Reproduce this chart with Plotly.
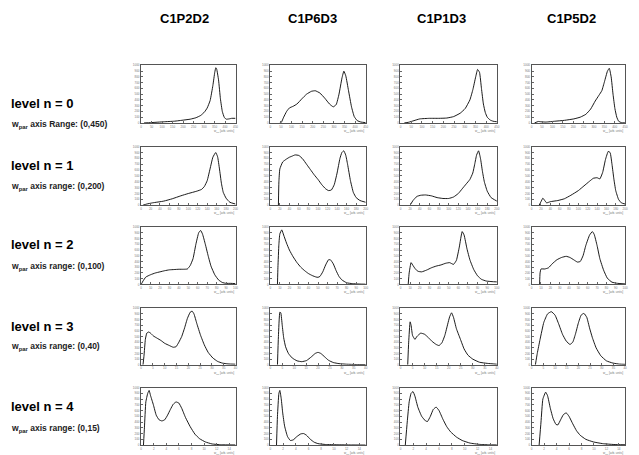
import plotly.graph_objects as go

# ---------------- data ----------------
columns = ["C1P2D2", "C1P6D3", "C1P1D3", "C1P5D2"]
level_labels = ["level n = 0", "level n = 1", "level n = 2", "level n = 3", "level n = 4"]
range_labels = [
    "w<sub>par</sub> axis Range: (0,450)",
    "w<sub>par</sub> axis range: (0,200)",
    "w<sub>par</sub> axis range: (0,100)",
    "w<sub>par</sub> axis range: (0,40)",
    "w<sub>par</sub> axis range: (0,15)",
]
x_max = [450, 200, 100, 40, 15]
x_dtick = [50, 20, 10, 5, 2]

# level 0
x_n0_C1P2D2 = [14, 45, 108, 158, 203, 234, 261, 284, 302, 315, 329, 342, 351, 356, 360, 369, 378, 387, 396, 405, 419, 432, 450]
y_n0_C1P2D2 = [0, 5, 20, 30, 50, 65, 90, 130, 190, 260, 390, 650, 880, 960, 940, 750, 420, 200, 100, 65, 70, 80, 80]
x_n0_C1P6D3 = [45, 52, 63, 77, 90, 108, 126, 149, 171, 194, 212, 234, 257, 279, 297, 311, 324, 338, 347, 356, 369, 383, 396, 410, 428, 450]
y_n0_C1P6D3 = [0, 10, 100, 200, 260, 290, 330, 420, 500, 550, 560, 520, 430, 330, 280, 320, 500, 780, 900, 820, 560, 280, 110, 40, 15, 5]
x_n0_C1P1D3 = [18, 36, 63, 90, 135, 180, 216, 248, 279, 302, 324, 338, 351, 360, 369, 378, 387, 396, 405, 419, 432, 450]
y_n0_C1P1D3 = [0, 10, 40, 70, 80, 80, 85, 110, 170, 250, 400, 580, 800, 930, 880, 600, 330, 180, 100, 50, 30, 20]
x_n0_C1P5D2 = [14, 32, 45, 68, 113, 158, 203, 234, 261, 284, 306, 324, 338, 351, 365, 374, 383, 392, 401, 410, 419, 432, 450]
y_n0_C1P5D2 = [0, 25, 20, 15, 30, 45, 70, 100, 150, 240, 380, 480, 560, 720, 900, 950, 800, 500, 250, 100, 30, 5, 0]

# level 1
x_n1_C1P2D2 = [4, 12, 24, 48, 66, 84, 100, 118, 128, 134, 140, 146, 152, 158, 162, 166, 170, 174, 180, 188, 200]
y_n1_C1P2D2 = [0, 20, 40, 70, 110, 160, 200, 240, 270, 320, 420, 620, 820, 900, 830, 620, 380, 220, 120, 50, 20]
x_n1_C1P6D3 = [17, 18, 20, 26, 34, 40, 46, 52, 60, 68, 76, 84, 92, 100, 108, 116, 122, 128, 134, 140, 146, 150, 154, 158, 162, 168, 174, 180, 188, 200]
y_n1_C1P6D3 = [0, 400, 620, 740, 790, 820, 840, 860, 850, 790, 700, 610, 520, 440, 350, 280, 250, 260, 350, 550, 800, 900, 930, 860, 700, 420, 220, 130, 80, 50]
x_n1_C1P1D3 = [20, 26, 34, 42, 52, 64, 76, 88, 100, 110, 120, 128, 136, 144, 150, 154, 158, 162, 166, 170, 174, 180, 188, 200]
y_n1_C1P1D3 = [0, 80, 150, 170, 175, 160, 130, 115, 115, 140, 200, 280, 360, 440, 550, 700, 860, 930, 800, 580, 400, 240, 130, 70]
x_n1_C1P5D2 = [16, 20, 24, 28, 32, 40, 56, 70, 84, 100, 112, 124, 132, 140, 146, 152, 158, 164, 168, 172, 176, 180, 186, 192, 200]
y_n1_C1P5D2 = [0, 60, 120, 80, 40, 60, 80, 110, 170, 250, 330, 410, 460, 470, 450, 560, 780, 920, 900, 700, 450, 250, 100, 40, 20]

# level 2
x_n2_C1P2D2 = [0, 2, 5, 10, 15, 20, 25, 30, 35, 40, 45, 49, 52, 55, 58, 61, 63, 65, 68, 71, 74, 78, 82, 86, 90, 95, 100]
y_n2_C1P2D2 = [0, 60, 130, 170, 200, 220, 240, 255, 260, 265, 265, 270, 330, 450, 700, 900, 940, 880, 700, 500, 320, 170, 80, 35, 20, 20, 15]
x_n2_C1P6D3 = [7.5, 8, 9, 10, 12, 14, 17, 20, 24, 28, 32, 36, 40, 44, 48, 50, 52, 55, 58, 61, 63, 66, 69, 72, 75, 80, 86, 93, 100]
y_n2_C1P6D3 = [0, 300, 700, 880, 950, 860, 720, 600, 480, 380, 300, 240, 190, 155, 130, 125, 140, 220, 340, 430, 430, 360, 240, 140, 80, 30, 15, 8, 5]
x_n2_C1P1D3 = [8, 9, 11, 13, 15, 18, 22, 27, 32, 37, 42, 47, 51, 55, 58, 61, 64, 66, 69, 72, 76, 80, 84, 89, 95, 100]
y_n2_C1P1D3 = [0, 200, 380, 330, 280, 230, 220, 250, 290, 320, 340, 370, 380, 350, 420, 650, 920, 860, 620, 430, 260, 150, 90, 60, 50, 45]
x_n2_C1P5D2 = [8.5, 9, 10, 14, 18, 22, 27, 32, 37, 41, 45, 49, 52, 55, 58, 62, 65, 67, 70, 73, 77, 81, 86, 92, 100]
y_n2_C1P5D2 = [0, 200, 270, 270, 290, 360, 430, 470, 490, 470, 430, 390, 400, 500, 680, 860, 920, 870, 680, 450, 250, 110, 40, 20, 10]

# level 3
x_n3_C1P2D2 = [0.8, 1.2, 1.8, 2.4, 3.2, 4, 5.2, 6.8, 8.4, 10, 12, 13.6, 14.8, 16, 17.2, 18.4, 19.6, 20.8, 21.6, 22.4, 23.6, 25.2, 26.8, 28.4, 30.4, 32.4, 34.4, 36.8, 40]
y_n3_C1P2D2 = [0, 150, 450, 560, 580, 560, 510, 470, 430, 380, 340, 310, 320, 400, 500, 650, 820, 930, 950, 900, 730, 520, 350, 220, 120, 60, 30, 15, 10]
x_n3_C1P6D3 = [3, 3.4, 4, 4.4, 5, 5.6, 6.4, 7.6, 9.2, 11.2, 13.2, 15.2, 17.2, 18.8, 20, 21.2, 22.8, 24.4, 26.4, 28.8, 32, 36, 40]
y_n3_C1P6D3 = [0, 500, 930, 920, 700, 480, 320, 200, 120, 70, 55, 75, 140, 200, 220, 200, 140, 80, 40, 20, 10, 5, 3]
x_n3_C1P1D3 = [3, 3.4, 4, 4.4, 5, 6, 6.8, 8.4, 10, 11.6, 13.2, 14.8, 16, 17.2, 18.4, 19.6, 20.4, 21.2, 22, 23.2, 24.8, 26.4, 28, 30, 32.8, 36, 40]
y_n3_C1P1D3 = [0, 400, 760, 700, 520, 450, 500, 560, 540, 480, 410, 360, 340, 390, 520, 720, 850, 920, 840, 640, 460, 280, 170, 100, 45, 25, 10]
x_n3_C1P5D2 = [1.6, 2.4, 3.6, 5.2, 6.8, 8.4, 10, 11.6, 13.2, 14.8, 16.4, 17.6, 18.8, 20, 21.2, 22.4, 23.6, 24.8, 26, 27.6, 29.6, 32, 34.8, 37.6, 40]
y_n3_C1P5D2 = [0, 200, 450, 750, 900, 940, 880, 720, 540, 420, 360, 400, 550, 740, 880, 910, 840, 650, 480, 300, 160, 70, 30, 12, 8]

# level 4
x_n4_C1P2D2 = [0.375, 0.525, 0.75, 1.05, 1.275, 1.5, 1.95, 2.4, 2.85, 3.3, 3.75, 4.2, 4.65, 5.1, 5.55, 6, 6.45, 7.05, 7.8, 8.55, 9.3, 10.2, 11.25, 12.75, 15]
y_n4_C1P2D2 = [0, 300, 750, 900, 950, 860, 700, 520, 440, 420, 440, 520, 620, 710, 750, 730, 640, 480, 320, 190, 110, 55, 20, 5, 2]
x_n4_C1P6D3 = [0.975, 1.125, 1.35, 1.5, 1.725, 1.95, 2.25, 2.7, 3.15, 3.6, 4.2, 4.8, 5.25, 5.7, 6.3, 6.9, 7.5, 8.7, 10.5, 12.75, 15]
y_n4_C1P6D3 = [0, 500, 900, 950, 800, 560, 330, 150, 80, 90, 150, 195, 200, 170, 100, 50, 25, 10, 5, 2, 0]
x_n4_C1P1D3 = [0.75, 1.05, 1.35, 1.65, 1.95, 2.25, 2.7, 3.3, 3.9, 4.2, 4.65, 5.1, 5.55, 6, 6.6, 7.2, 7.8, 8.7, 9.6, 10.8, 12.3, 13.8, 15]
y_n4_C1P1D3 = [0, 400, 750, 900, 930, 850, 660, 500, 420, 410, 500, 620, 660, 600, 450, 320, 230, 140, 80, 35, 12, 4, 2]
x_n4_C1P5D2 = [1.2, 1.5, 1.8, 2.25, 2.55, 3, 3.45, 3.9, 4.2, 4.65, 5.1, 5.55, 6, 6.6, 7.2, 7.8, 8.7, 9.9, 11.4, 13.2, 15]
y_n4_C1P5D2 = [0, 400, 800, 920, 860, 640, 460, 360, 350, 440, 530, 560, 500, 370, 250, 170, 100, 55, 25, 10, 5]

series = [
    [(x_n0_C1P2D2, y_n0_C1P2D2), (x_n0_C1P6D3, y_n0_C1P6D3), (x_n0_C1P1D3, y_n0_C1P1D3), (x_n0_C1P5D2, y_n0_C1P5D2)],
    [(x_n1_C1P2D2, y_n1_C1P2D2), (x_n1_C1P6D3, y_n1_C1P6D3), (x_n1_C1P1D3, y_n1_C1P1D3), (x_n1_C1P5D2, y_n1_C1P5D2)],
    [(x_n2_C1P2D2, y_n2_C1P2D2), (x_n2_C1P6D3, y_n2_C1P6D3), (x_n2_C1P1D3, y_n2_C1P1D3), (x_n2_C1P5D2, y_n2_C1P5D2)],
    [(x_n3_C1P2D2, y_n3_C1P2D2), (x_n3_C1P6D3, y_n3_C1P6D3), (x_n3_C1P1D3, y_n3_C1P1D3), (x_n3_C1P5D2, y_n3_C1P5D2)],
    [(x_n4_C1P2D2, y_n4_C1P2D2), (x_n4_C1P6D3, y_n4_C1P6D3), (x_n4_C1P1D3, y_n4_C1P1D3), (x_n4_C1P5D2, y_n4_C1P5D2)],
]

# ---------------- layout ----------------
W, H = 639, 455
cols_px = [(141, 236), (271, 367), (402, 499), (534, 628)]
rows_px = [(64, 122), (146, 205), (227, 285), (309, 366), (389, 447)]
title_x_px = [185, 313, 443, 574]
level_y_px = [102, 165, 245, 327, 408]
sub_y_px = [124, 186, 267, 348, 430]

def fx(px):
    return px / W

def fy(py):
    return 1 - py / H

fig = go.Figure()
layout = dict(
    width=W, height=H,
    margin=dict(l=0, r=0, t=0, b=0),
    paper_bgcolor="white", plot_bgcolor="white",
    showlegend=False,
    font=dict(family="Liberation Sans, Arial, sans-serif", color="black"),
)
annotations = []

for r in range(5):
    for c in range(4):
        k = r * 4 + c + 1
        xs, ys = series[r][c]
        fig.add_trace(go.Scatter(
            x=xs, y=ys, mode="lines",
            line=dict(color="black", width=0.9, shape="spline", smoothing=0.4),
            xaxis=f"x{k}", yaxis=f"y{k}", hoverinfo="skip",
        ))
        x0, x1 = cols_px[c]
        y0, y1 = rows_px[r]
        axis_common = dict(
            showline=True, mirror=True, linecolor="#555", linewidth=1,
            showgrid=False, zeroline=False, ticks="inside", ticklen=2,
            tickcolor="#666", tickfont=dict(size=3, color="#777"),
        )
        layout[f"xaxis{k}"] = dict(
            domain=[fx(x0), fx(x1)], anchor=f"y{k}",
            range=[0, x_max[r]], dtick=x_dtick[r], **axis_common,
        )
        layout[f"yaxis{k}"] = dict(
            domain=[fy(y1), fy(y0)], anchor=f"x{k}",
            range=[0, 1000], dtick=100, **axis_common,
        )
        annotations.append(dict(
            x=fx(x1), y=fy(y1 + 8), xref="paper", yref="paper",
            xanchor="right", yanchor="middle", showarrow=False,
            text="w<sub>par</sub> [arb. units]",
            font=dict(size=3, color="#777"),
        ))

for c, name in enumerate(columns):
    annotations.append(dict(
        x=fx(title_x_px[c]), y=fy(17), xref="paper", yref="paper",
        xanchor="center", yanchor="middle", showarrow=False,
        text=f"<b>{name}</b>", font=dict(size=13, color="black"),
    ))

for r in range(5):
    annotations.append(dict(
        x=fx(8), y=fy(level_y_px[r]), xref="paper", yref="paper",
        xanchor="left", yanchor="middle", showarrow=False,
        text=f"<b>{level_labels[r]}</b>", font=dict(size=13, color="black"),
    ))
    annotations.append(dict(
        x=fx(8), y=fy(sub_y_px[r]), xref="paper", yref="paper",
        xanchor="left", yanchor="middle", showarrow=False,
        text=f"<b>{range_labels[r]}</b>", font=dict(size=8.5, color="#222"),
    ))

layout["annotations"] = annotations
fig.update_layout(**layout)
fig.write_html("out.html")
